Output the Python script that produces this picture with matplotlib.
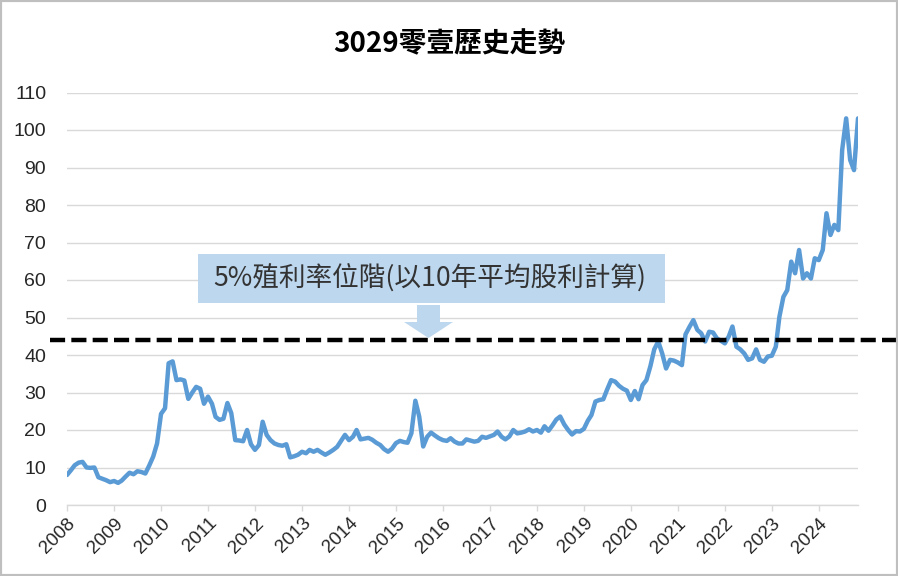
import numpy as np
import pandas as pd
import matplotlib
matplotlib.use('Agg')
import matplotlib.pyplot as plt
import matplotlib.dates as mdates
import matplotlib.patches as mpatches

# ---- Data (monthly closing) ----

TITLE = '3029零壹歷史走勢'
NOTE = '5%殖利率位階(以10年平均股利計算)'
YIELD_LEVEL = 44

y2008 = [8.0, 9.3, 10.6, 11.3, 11.5, 10.0, 9.9, 10.0, 7.4, 7.0, 6.6, 6.1]
y2009 = [6.4, 5.9, 6.5, 7.6, 8.6, 8.2, 9.0, 8.8, 8.4, 10.5, 12.9, 16.4]
y2010 = [24.3, 25.8, 37.8, 38.3, 33.3, 33.5, 33.2, 28.3, 30.0, 31.5, 31.0, 27.0]
y2011 = [28.9, 27.0, 23.5, 22.7, 23.0, 27.2, 24.5, 17.3, 17.2, 17.0, 20.0, 16.2]
y2012 = [14.7, 16.0, 22.2, 18.7, 17.3, 16.4, 16.0, 15.8, 16.2, 12.7, 13.0, 13.4]
y2013 = [14.2, 13.8, 14.7, 14.2, 14.7, 14.0, 13.4, 14.0, 14.7, 15.5, 17.1, 18.7]
y2014 = [17.3, 18.2, 20.0, 17.5, 17.7, 17.9, 17.4, 16.6, 16.0, 14.9, 14.2, 15.0]
y2015 = [16.5, 17.1, 16.8, 16.6, 19.1, 27.8, 23.6, 15.6, 18.2, 19.3, 18.5, 17.8]
y2016 = [17.3, 17.1, 17.8, 16.9, 16.4, 16.4, 17.5, 17.2, 16.9, 17.1, 18.2, 17.9]
y2017 = [18.3, 18.7, 19.6, 18.2, 17.5, 18.3, 20.0, 19.1, 19.3, 19.6, 20.2, 19.6]
y2018 = [20.0, 19.3, 21.0, 19.8, 21.2, 22.8, 23.6, 21.5, 20.0, 18.8, 19.7, 19.6]
y2019 = [20.3, 22.5, 24.0, 27.6, 28.0, 28.2, 30.8, 33.3, 32.9, 31.8, 31.0, 30.5]
y2020 = [28.0, 30.4, 28.2, 32.0, 33.3, 37.0, 41.5, 43.6, 40.4, 36.4, 38.7, 38.5]
y2021 = [38.0, 37.3, 45.5, 47.5, 49.3, 46.7, 45.8, 43.6, 46.2, 46.0, 44.4, 43.8]
y2022 = [43.1, 45.0, 47.6, 42.2, 41.5, 40.4, 38.7, 39.1, 41.5, 38.7, 38.2, 39.6]
y2023 = [39.8, 42.2, 50.2, 55.5, 57.3, 64.9, 61.8, 68.0, 60.4, 61.8, 60.4, 65.8]
y2024 = [65.3, 68.0, 77.8, 72.0, 74.7, 73.3, 94.7, 103.1, 92.0, 89.3, 103.1]

prices = (y2008 + y2009 + y2010 + y2011 + y2012 + y2013 + y2014 + y2015 +
          y2016 + y2017 + y2018 + y2019 + y2020 + y2021 + y2022 + y2023 +
          y2024)
dates = pd.date_range('2008-01-01', periods=len(prices), freq='MS')

# ---- Style ----

CJK = ['Noto Sans CJK TC', 'DejaVu Sans']
NUM = ['Liberation Sans', 'DejaVu Sans']
LINE_COLOR = '#5B9BD5'
BOX_COLOR = '#BDD7EE'
GRID_COLOR = '#D9D9D9'
TEXT_COLOR = '#262626'

W, H, DPI = 898, 576, 100

fig = plt.figure(figsize=(W / DPI, H / DPI), dpi=DPI)
ax = fig.add_axes([67 / W, 1 - 505 / H, (858 - 67) / W, (505 - 92.5) / H])

ax.plot(dates, prices, color=LINE_COLOR, lw=3.2, solid_joinstyle='round',
        solid_capstyle='round', zorder=3)

ax.set_ylim(0, 110)
ax.set_yticks(np.arange(0, 111, 10))
ax.set_xlim(dates[0], dates[-1])
ax.xaxis.set_major_locator(mdates.YearLocator())
ax.xaxis.set_major_formatter(mdates.DateFormatter('%Y'))

ax.grid(axis='y', color=GRID_COLOR, lw=1.0)
ax.set_axisbelow(True)
for side in ('left', 'right', 'top'):
    ax.spines[side].set_visible(False)
ax.spines['bottom'].set_color(GRID_COLOR)
ax.spines['bottom'].set_linewidth(1.0)

ax.tick_params(axis='y', length=0, pad=15, labelsize=14,
               labelcolor=TEXT_COLOR)
ax.tick_params(axis='x', length=4, width=1, color=GRID_COLOR, pad=3,
               labelsize=13.5, labelcolor=TEXT_COLOR)
for lab in ax.get_yticklabels() + ax.get_xticklabels():
    lab.set_family(NUM)
for lab in ax.get_xticklabels():
    lab.set_rotation(45)
    lab.set_ha('right')
    lab.set_va('top')
    lab.set_rotation_mode('anchor')

# dashed 5% yield level, runs past the plot area like the drawn shape
ax.plot([-0.0215, 1.0506], [YIELD_LEVEL, YIELD_LEVEL], color='black',
        lw=3.2, dashes=(3.4, 1.4), dash_capstyle='butt',
        transform=ax.get_yaxis_transform(), clip_on=False, zorder=4)

# callout box + arrow (figure inches)
inch = fig.dpi_scale_trans
fig.patches.append(mpatches.Rectangle((1.98, 2.73), 4.67, 0.49,
                                      facecolor=BOX_COLOR, edgecolor='none',
                                      transform=inch, zorder=5))
fig.text(4.30, 2.975, NOTE, transform=inch, ha='center', va='center',
         fontsize=19.2, family=CJK, color='#333333', zorder=6)
fig.patches.append(mpatches.FancyArrow(4.285, 2.71, 0, -0.33, width=0.23,
                                       head_width=0.49, head_length=0.16,
                                       length_includes_head=True,
                                       facecolor=BOX_COLOR, edgecolor='none',
                                       transform=inch, zorder=5))

fig.text(0.5, 1 - 44 / H, TITLE, ha='center', va='center', fontsize=20,
         fontweight='bold', family=CJK, color='black')

# outer frame
fig.patches.append(mpatches.Rectangle((0, 0), 1, 1, transform=fig.transFigure,
                                      fill=False, edgecolor='#BFBFBF',
                                      lw=3))

fig.savefig('out.png', dpi=DPI)
